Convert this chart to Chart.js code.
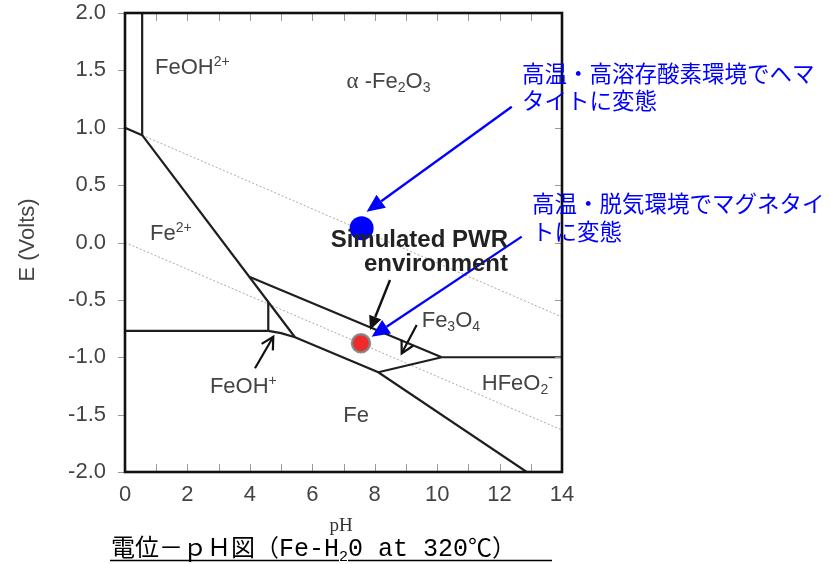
<!DOCTYPE html>
<html>
<head>
<meta charset="utf-8">
<script src="https://cdn.jsdelivr.net/npm/chart.js@4.4.0/dist/chart.umd.min.js"></script>
<style>
  html, body { margin: 0; padding: 0; background: #fff; overflow: hidden; }
  canvas { display: block; }
</style>
</head>
<body>
<canvas id="pourbaix" width="831" height="564" style="width:831px;height:564px"></canvas>
<script>
// Fe-H2O potential-pH diagram at 320 C

// tick labels
const phTicks = [0, 2, 4, 6, 8, 10, 12, 14];
const phMinorTicks = [0, 1, 2, 3, 4, 5, 6, 7, 8, 9, 10, 11, 12, 13, 14];
const eTicks = [-2.0, -1.5, -1.0, -0.5, 0.0, 0.5, 1.0, 1.5, 2.0];

// phase boundaries, [pH, E]
const feoh2Boundary = [[0.55, 2.0], [0.55, 0.935]];
const fe3Fe2Boundary = [[0, 1.0], [0.55, 0.935]];
const fe2OxideBoundary = [[0.55, 0.935], [5.446, -0.826]];
const fe2FeBoundary = [[0, -0.77], [4.59, -0.77]];
const feohUpperBoundary = [[4.59, -0.518], [4.59, -0.77]];
const feohFeBoundary = [[4.59, -0.77], [5.0, -0.79], [5.446, -0.826]];
const magnetiteUpper = [[4.0, -0.30], [10.146, -1.0]];
const magnetiteLower = [[8.115, -1.131], [10.146, -1.0]];
const feLowerBoundary = [[5.446, -0.826], [8.115, -1.131], [12.87, -2.0]];
const hfeo2Boundary = [[10.146, -1.0], [14, -1.0]];

// water stability lines
const waterUpper = [[0.55, 0.935], [14, -0.649]];
const waterLower = [[0, 0.0], [14, -1.634]];

// marked conditions
const hematitePoint = [[7.58, 0.124]];
const pwrPoint = [[7.56, -0.878]];

// arrows, [from, to]
const blueArrows = [
    [[12.39, 1.183], [7.74, 0.268]],
    [[12.71, 0.051], [7.90, -0.821]]
];
const pwrArrow = [[8.49, -0.327], [7.85, -0.763]];
const openArrows = [
    [[9.345, -0.719], [8.865, -0.966]],
    [[4.165, -1.096], [4.75, -0.821]]
];

// region labels: text parts, anchor [pH, E]
const regionLabels = [
    { at: [0.96, 1.466], parts: [['FeOH', 'n'], ['2+', 'sup']] },
    { at: [7.10, 1.344], parts: [['\u03b1', 'greek'], [' -Fe', 'n'], ['2', 'sub'], ['O', 'n'], ['3', 'sub']] },
    { at: [0.80, 0.022], parts: [['Fe', 'n'], ['2+', 'sup']] },
    { at: [9.505, -0.734], parts: [['Fe', 'n'], ['3', 'sub'], ['O', 'n'], ['4', 'sub']] },
    { at: [2.72, -1.314], parts: [['FeOH', 'n'], ['+', 'sup']] },
    { at: [11.43, -1.285], parts: [['HFeO', 'n'], ['2', 'sub'], ['-', 'sup']] },
    { at: [6.99, -1.562], parts: [['Fe', 'n']] }
];

const blueNotes = [
    { x: 522, y: 73, text: '高温・高溶存酸素環境でヘマ' },
    { x: 522, y: 100, text: 'タイトに変態' },
    { x: 532, y: 203, text: '高温・脱気環境でマグネタイ' },
    { x: 532, y: 231, text: 'トに変態' }
];

const toXY = pts => pts.map(p => ({ x: p[0], y: p[1] }));

function boundary(pts) {
    return {
        data: toXY(pts),
        showLine: true,
        borderColor: '#1e1e1e',
        borderWidth: 2.2,
        pointRadius: 0,
        fill: false,
        order: 2
    };
}

function waterLine(pts) {
    return {
        data: toXY(pts),
        showLine: true,
        borderColor: '#a8a8a8',
        borderWidth: 1,
        borderDash: [2, 2],
        pointRadius: 0,
        fill: false,
        order: 3
    };
}

function drawArrow(ctx, x1, y1, x2, y2, opts) {
    const ang = Math.atan2(y2 - y1, x2 - x1);
    const len = opts.headLen, half = opts.headW / 2;
    const bx = x2 - len * Math.cos(ang), by = y2 - len * Math.sin(ang);
    ctx.strokeStyle = opts.color;
    ctx.fillStyle = opts.color;
    ctx.lineWidth = opts.width;
    ctx.lineCap = 'butt';
    ctx.beginPath();
    ctx.moveTo(x1, y1);
    ctx.lineTo(opts.filled ? bx : x2, opts.filled ? by : y2);
    ctx.stroke();
    const px = -Math.sin(ang), py = Math.cos(ang);
    ctx.beginPath();
    ctx.moveTo(bx + px * half, by + py * half);
    ctx.lineTo(x2, y2);
    ctx.lineTo(bx - px * half, by - py * half);
    if (opts.filled) {
        ctx.closePath();
        ctx.fill();
    } else {
        ctx.stroke();
    }
}

function drawChem(ctx, parts, x, y) {
    let cx = x;
    parts.forEach(([t, mode]) => {
        let dy = 0;
        if (mode === 'n') ctx.font = '22px "Liberation Sans", Arial, sans-serif';
        else if (mode === 'greek') ctx.font = '23px "Liberation Serif", serif';
        else {
            ctx.font = '14px "Liberation Sans", Arial, sans-serif';
            dy = mode === 'sub' ? 4 : -8;
        }
        ctx.fillText(t, cx, y + dy);
        cx += ctx.measureText(t).width;
    });
}

const overlay = {
    id: 'overlay',
    afterDatasetsDraw(chart) {
        const { ctx, chartArea: a, scales: { x, y } } = chart;
        ctx.save();

        // small ticks
        ctx.strokeStyle = '#999';
        ctx.lineWidth = 1;
        ctx.beginPath();
        phMinorTicks.forEach(v => {
            const px = Math.round(x.getPixelForValue(v)) + 0.5;
            ctx.moveTo(px, a.top);
            ctx.lineTo(px, a.top + 8);
            ctx.moveTo(px, a.bottom);
            ctx.lineTo(px, a.bottom - 8);
        });
        eTicks.forEach(v => {
            const py = Math.round(y.getPixelForValue(v)) + 0.5;
            ctx.moveTo(a.left - 7, py);
            ctx.lineTo(a.left, py);
            ctx.moveTo(a.right, py);
            ctx.lineTo(a.right - 7, py);
        });
        ctx.stroke();

        // frame
        ctx.strokeStyle = '#111';
        ctx.lineWidth = 2.6;
        ctx.strokeRect(a.left, a.top, a.right - a.left, a.bottom - a.top);

        // arrows
        const P = p => [x.getPixelForValue(p[0]), y.getPixelForValue(p[1])];
        blueArrows.forEach(([f, t]) => {
            const [x1, y1] = P(f), [x2, y2] = P(t);
            drawArrow(ctx, x1, y1, x2, y2, { color: '#0000ff', width: 2.3, headLen: 18, headW: 16, filled: true });
        });
        {
            const [x1, y1] = P(pwrArrow[0]), [x2, y2] = P(pwrArrow[1]);
            drawArrow(ctx, x1, y1, x2, y2, { color: '#111', width: 2.4, headLen: 14, headW: 13, filled: true });
        }
        openArrows.forEach(([f, t]) => {
            const [x1, y1] = P(f), [x2, y2] = P(t);
            drawArrow(ctx, x1, y1, x2, y2, { color: '#111', width: 2.2, headLen: 12, headW: 13, filled: false });
        });
        ctx.restore();
    },
    afterDraw(chart) {
        const { ctx, scales: { x, y } } = chart;
        ctx.save();
        ctx.textAlign = 'left';
        ctx.textBaseline = 'alphabetic';

        // region labels
        ctx.fillStyle = '#444';
        regionLabels.forEach(l => {
            drawChem(ctx, l.parts, x.getPixelForValue(l.at[0]), y.getPixelForValue(l.at[1]));
        });

        // simulated PWR note
        ctx.fillStyle = '#222';
        ctx.font = 'bold 24px "Liberation Sans", Arial, sans-serif';
        ctx.textAlign = 'right';
        ctx.fillText('Simulated PWR', 508, 247);
        ctx.fillText('environment', 508, 271);

        // blue notes
        ctx.textAlign = 'left';
        ctx.textBaseline = 'middle';
        ctx.fillStyle = '#0000ff';
        ctx.font = '22.5px "Noto Sans CJK JP", sans-serif';
        blueNotes.forEach(n => ctx.fillText(n.text, n.x, n.y));

        // axis titles
        ctx.fillStyle = '#444';
        ctx.font = '22px "Liberation Sans", Arial, sans-serif';
        ctx.save();
        ctx.translate(28, 240);
        ctx.rotate(-Math.PI / 2);
        ctx.textAlign = 'center';
        ctx.fillText('E (Volts)', 0, 0);
        ctx.restore();

        ctx.fillStyle = '#333';
        ctx.textAlign = 'center';
        ctx.textBaseline = 'alphabetic';
        ctx.font = '19px "Liberation Serif", serif';
        ctx.fillText('pH', 341, 531);

        // caption
        ctx.fillStyle = '#000';
        ctx.textAlign = 'left';
        const base = 556;
        let cx = 111;
        const seg = (t, f, dy) => {
            ctx.font = f;
            ctx.fillText(t, cx, base + (dy || 0));
            cx += ctx.measureText(t).width;
        };
        const jp = '24px "Noto Sans CJK JP", sans-serif';
        const lat = '25px "Liberation Mono", monospace';
        seg('電位－ｐＨ図（', jp);
        seg('Fe-H', lat);
        const subStart = cx;
        seg('2', '15px "Liberation Mono", monospace', 5);
        const subEnd = cx;
        seg('0 at 320', lat);
        seg('℃）', jp);
        ctx.strokeStyle = '#000';
        ctx.lineWidth = 1.6;
        ctx.beginPath();
        ctx.moveTo(110, 560.5);
        ctx.lineTo(subStart, 560.5);
        ctx.moveTo(subEnd, 560.5);
        ctx.lineTo(552, 560.5);
        ctx.stroke();
        ctx.restore();
    }
};

new Chart(document.getElementById('pourbaix'), {
    type: 'scatter',
    data: {
        datasets: [
            {
                data: toXY(hematitePoint),
                pointRadius: 12,
                pointBackgroundColor: '#0000ff',
                pointBorderWidth: 0,
                order: 1
            },
            {
                data: toXY(pwrPoint),
                pointRadius: 9,
                pointBackgroundColor: '#f02a2a',
                pointBorderColor: 'rgba(130,130,130,0.9)',
                pointBorderWidth: 2.5,
                order: 1
            },
            waterLine(waterUpper),
            waterLine(waterLower),
            boundary(feoh2Boundary),
            boundary(fe3Fe2Boundary),
            boundary(fe2OxideBoundary),
            boundary(fe2FeBoundary),
            boundary(feohUpperBoundary),
            boundary(feohFeBoundary),
            boundary(magnetiteUpper),
            boundary(magnetiteLower),
            boundary(feLowerBoundary),
            boundary(hfeo2Boundary)
        ]
    },
    options: {
        responsive: false,
        devicePixelRatio: 1,
        animation: false,
        events: [],
        layout: { padding: { left: 0, right: 269, top: 13, bottom: 0 } },
        plugins: {
            legend: { display: false },
            tooltip: { enabled: false }
        },
        scales: {
            x: {
                type: 'linear',
                min: 0,
                max: 14,
                afterFit: s => {
                    s.height = 92;
                    s.paddingLeft = 0;
                    s.paddingRight = 0;
                },
                afterBuildTicks: s => { s.ticks = phTicks.map(v => ({ value: v })); },
                grid: { display: false, drawTicks: false },
                border: { display: false },
                ticks: {
                    color: '#444',
                    padding: 10,
                    maxRotation: 0,
                    font: { family: '"Liberation Sans", Arial, sans-serif', size: 22 }
                }
            },
            y: {
                type: 'linear',
                min: -2,
                max: 2,
                afterFit: s => {
                    s.width = 125;
                    s.paddingTop = 0;
                    s.paddingBottom = 0;
                },
                afterBuildTicks: s => { s.ticks = eTicks.map(v => ({ value: v })); },
                grid: { display: false, drawTicks: false },
                border: { display: false },
                ticks: {
                    color: '#444',
                    padding: 19,
                    font: { family: '"Liberation Sans", Arial, sans-serif', size: 22 },
                    callback: v => v.toFixed(1)
                }
            }
        }
    },
    plugins: [overlay]
});
</script>
</body>
</html>
